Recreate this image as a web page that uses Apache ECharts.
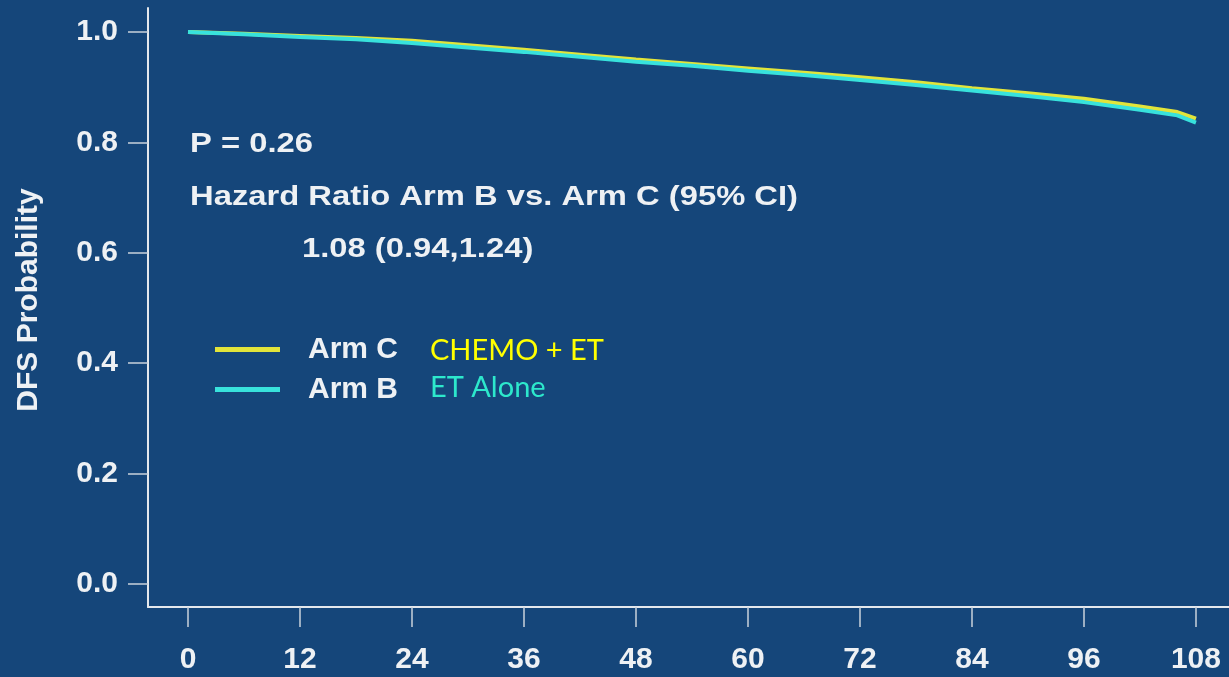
<!DOCTYPE html>
<html>
<head>
<meta charset="utf-8">
<title>DFS Probability</title>
<script src="https://cdn.jsdelivr.net/npm/echarts@6/dist/echarts.min.js"></script>
<style>
  html, body { margin: 0; padding: 0; background: #15467a; }
  #chart { width: 1229px; height: 677px; }
</style>
</head>
<body>
<div id="chart"></div>
<script>
// Follow-up time in months
const months = [0, 6, 12, 18, 24, 30, 36, 42, 48, 54, 60, 66, 72, 78, 84, 90, 96, 102, 106, 108];
// Kaplan-Meier DFS estimates
const armC = [1.000, 0.997, 0.993, 0.989, 0.984, 0.976, 0.968, 0.959, 0.950, 0.942, 0.934, 0.926, 0.918, 0.909, 0.898, 0.889, 0.879, 0.865, 0.855, 0.843];
const armB = [1.000, 0.996, 0.991, 0.987, 0.980, 0.972, 0.964, 0.955, 0.946, 0.939, 0.930, 0.922, 0.913, 0.904, 0.894, 0.884, 0.873, 0.859, 0.849, 0.836];
const xTicks = [0, 12, 24, 36, 48, 60, 72, 84, 96, 108];
const yTicks = [0, 0.2, 0.4, 0.6, 0.8, 1.0];

const seriesNames = ['Arm C', 'Arm B'];
const seriesNotes = ['CHEMO + ET', 'ET Alone'];
const statLines = ['P = 0.26', 'Hazard Ratio Arm B vs. Arm C (95% CI)', '1.08 (0.94,1.24)'];
const yTitle = 'DFS Probability';

const BG = '#15467a';
const FG = '#eef1f4';
const AXIS = '#e4e8ec';
const YELLOW = '#e2e43a';
const CYAN = '#38e2dc';
const FONT = '"Liberation Sans", Arial, Helvetica, sans-serif';
const NOTE_FONT = '29px Lato, "Open Sans", sans-serif';
const STAT_FONT = 'bold 28px ' + FONT;

const chart = echarts.init(document.getElementById('chart'), null, { renderer: 'canvas' });

const toPairs = (vals) => months.map((m, i) => [m, vals[i]]);

const option = {
  backgroundColor: BG,
  animation: false,
  grid: { left: 148, right: 0, top: 8, bottom: 70 },
  xAxis: {
    type: 'value',
    min: -4.286,
    max: 111.54,
    splitLine: { show: false },
    axisLine: { show: true, onZero: false, lineStyle: { color: AXIS, width: 2 } },
    axisTick: { show: true, customValues: xTicks, length: 20, lineStyle: { color: '#c9d2dc', width: 1.5 } },
    axisLabel: {
      customValues: xTicks, margin: 38, color: FG,
      fontFamily: FONT, fontWeight: 'bold', fontSize: 30
    }
  },
  yAxis: {
    type: 'value',
    min: -0.0417,
    max: 1.0435,
    splitLine: { show: false },
    axisLine: { show: true, onZero: false, lineStyle: { color: AXIS, width: 2 } },
    axisTick: { show: true, customValues: yTicks, length: 20, lineStyle: { color: '#c9d2dc', width: 1.5 } },
    axisLabel: {
      customValues: yTicks, margin: 30, color: FG,
      fontFamily: FONT, fontWeight: 'bold', fontSize: 30,
      formatter: (v) => v.toFixed(1)
    }
  },
  legend: {
    orient: 'vertical',
    left: 215,
    top: 334,
    padding: 0,
    itemWidth: 65,
    itemHeight: 5,
    itemGap: 9,
    icon: 'rect',
    selectedMode: false,
    data: seriesNames,
    textStyle: {
      color: FG, fontFamily: FONT, fontWeight: 'bold', fontSize: 30,
      lineHeight: 31, padding: [0, 0, 0, 23]
    }
  },
  series: [
    {
      name: seriesNames[0], type: 'line', showSymbol: false, z: 2,
      data: toPairs(armC),
      color: YELLOW,
      lineStyle: { width: 4, color: YELLOW }
    },
    {
      name: seriesNames[1], type: 'line', showSymbol: false, z: 3,
      data: toPairs(armB),
      color: CYAN,
      lineStyle: { width: 4, color: CYAN }
    }
  ],
  graphic: [
    { type: 'text', x: 29, y: 300, rotation: Math.PI / 2,
      style: { text: yTitle, fill: FG, font: 'bold 30px ' + FONT, align: 'center', verticalAlign: 'middle' } },
    { type: 'text', x: 190, y: 144, scaleX: 1.17,
      style: { text: statLines[0], fill: FG, font: STAT_FONT, verticalAlign: 'middle' } },
    { type: 'text', x: 190, y: 197, scaleX: 1.17,
      style: { text: statLines[1], fill: FG, font: STAT_FONT, verticalAlign: 'middle' } },
    { type: 'text', x: 302, y: 249, scaleX: 1.17,
      style: { text: statLines[2], fill: FG, font: STAT_FONT, verticalAlign: 'middle' } },
    { type: 'text', x: 430, y: 351,
      style: { text: seriesNotes[0], fill: '#ffff00', font: NOTE_FONT, verticalAlign: 'middle' } },
    { type: 'text', x: 430, y: 388,
      style: { text: seriesNotes[1], fill: '#2de8cc', font: NOTE_FONT, verticalAlign: 'middle' } }
  ]
};

chart.setOption(option);
</script>
</body>
</html>
